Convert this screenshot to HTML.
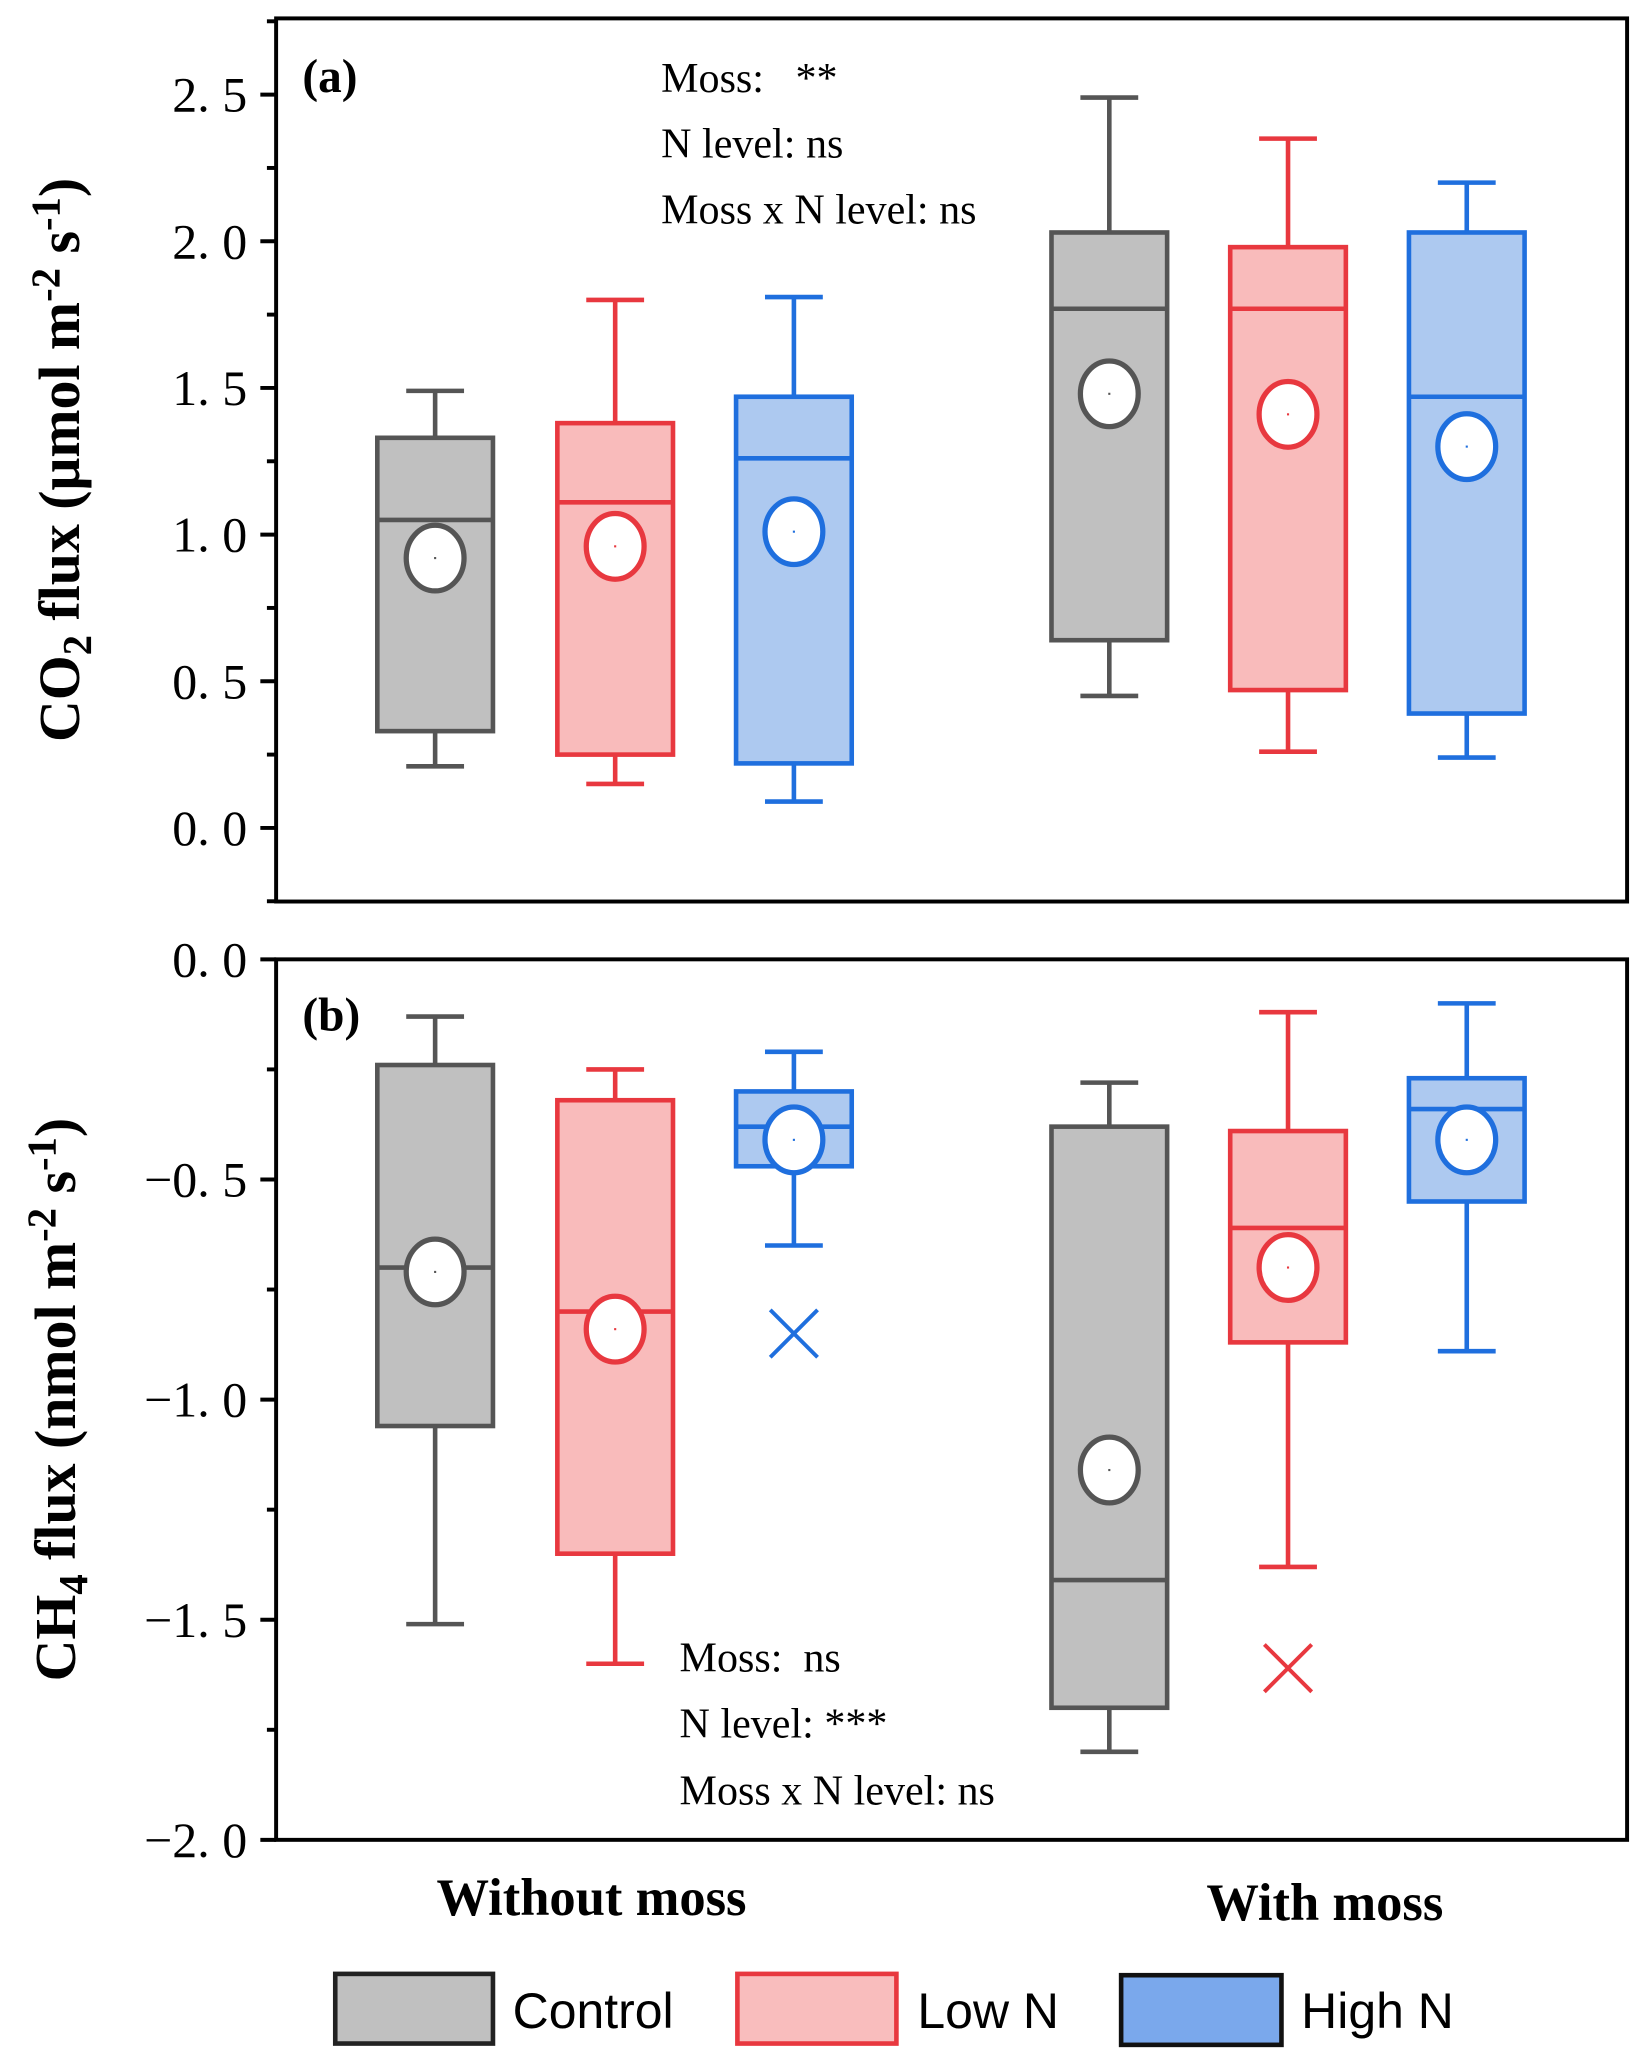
<!DOCTYPE html>
<html><head><meta charset="utf-8">
<style>
html,body{margin:0;padding:0;background:#fff;}
svg{display:block;}
.tick{font-family:"Liberation Serif",serif;font-size:38px;fill:#000;}
.ann{font-family:"Liberation Serif",serif;font-size:32px;fill:#000;}
.ttl{font-family:"Liberation Serif",serif;font-size:40px;font-weight:bold;fill:#000;}
.yt{font-family:"Liberation Serif",serif;font-size:44px;font-weight:bold;fill:#000;}
.leg{font-family:"Liberation Sans",sans-serif;font-size:38px;fill:#000;}
</style></head>
<body>
<svg id="chart" width="1643" height="2058" viewBox="0 0 1250 1566" xmlns="http://www.w3.org/2000/svg">
<g id="panelA"></g>
<g id="panelB"></g>
<text class="ttl" x="450" y="1457" text-anchor="middle">Without moss</text>
<text class="ttl" x="1008" y="1461" text-anchor="middle">With moss</text>
<g>
<rect x="255" y="1502" width="120" height="53" fill="#c0c0c0" stroke="#222" stroke-width="3.5"/>
<text class="leg" x="390" y="1543">Control</text>
<rect x="561" y="1502" width="121" height="53" fill="#f9bdbd" stroke="#e8383f" stroke-width="3.5"/>
<text class="leg" x="698" y="1543">Low N</text>
<rect x="853" y="1503" width="122" height="53" fill="#7aa8ec" stroke="#111" stroke-width="3.5"/>
<text class="leg" x="990" y="1543">High N</text>
</g>
</svg>
<script>
// Shared
const groups = ["Control","Low N","High N","Control","Low N","High N"];
const xCenters = [331,468,604,844,980,1116];
const strokes = ["#555555","#e8383f","#1f6fde","#555555","#e8383f","#1f6fde"];
const fills = ["#c0c0c0","#f9bbbb","#adc9f0","#c0c0c0","#f9bbbb","#adc9f0"];

// Panel A data (CO2)
const aWhiskLo = [0.21,0.15,0.09,0.45,0.26,0.24];
const aQ1 = [0.33,0.25,0.22,0.64,0.47,0.39];
const aMedian = [1.05,1.11,1.26,1.77,1.77,1.47];
const aQ3 = [1.33,1.38,1.47,2.03,1.98,2.03];
const aWhiskHi = [1.49,1.80,1.81,2.49,2.35,2.20];
const aMean = [0.92,0.96,1.01,1.48,1.41,1.30];
const aTicks = [0,0.5,1.0,1.5,2.0,2.5];
const aTickLabels = ["0. 0","0. 5","1. 0","1. 5","2. 0","2. 5"];

// Panel B data (CH4)
const bWhiskLo = [-1.51,-1.60,-0.65,-1.80,-1.38,-0.89];
const bQ1 = [-1.06,-1.35,-0.47,-1.70,-0.87,-0.55];
const bMedian = [-0.70,-0.80,-0.38,-1.41,-0.61,-0.34];
const bQ3 = [-0.24,-0.32,-0.30,-0.38,-0.39,-0.27];
const bWhiskHi = [-0.13,-0.25,-0.21,-0.28,-0.12,-0.10];
const bMean = [-0.71,-0.84,-0.41,-1.16,-0.70,-0.41];
const bOutlierIdx = [2,4];
const bOutlierVal = [-0.85,-1.61];
const bTicks = [0,-0.5,-1.0,-1.5,-2.0];
const bTickLabels = ["0. 0","−0. 5","−1. 0","−1. 5","−2. 0"];

const NS="http://www.w3.org/2000/svg";
function mk(parent,tag,attrs){const e=document.createElementNS(NS,tag);for(const k in attrs)e.setAttribute(k,attrs[k]);parent.appendChild(e);return e;}

function drawPanel(g,cfg){
  const y=v=>cfg.y0+(v-cfg.v0)*(cfg.y1-cfg.y0)/(cfg.v1-cfg.v0);
  const L=210,R=1238,T=cfg.top,B=cfg.bottom;
  const fr=mk(g,'rect',{x:L,y:T,width:R-L,height:B-T,fill:'none',stroke:'#000','stroke-width':3});
  
  
  for(let v=cfg.minorStart;v<=cfg.minorEnd+1e-9;v+=0.25){
    const major=Math.abs(v*2-Math.round(v*2))<1e-6;
    const t=mk(g,'line',{x1:L-(major?12:7),x2:L,y1:y(v),y2:y(v),stroke:'#000','stroke-width':3});
    
    
  }
  cfg.ticks.forEach((v,i)=>{
    const t=mk(g,'text',{x:L-22,y:y(v)+13,'text-anchor':'end',class:'tick'});
    t.textContent=cfg.tickLabels[i];
    
    
  });
  const d=cfg.data;
  for(let i=0;i<xCenters.length;i++){
    const cx=xCenters[i],s=strokes[i],hw=44,cw=22;
    const bg=mk(g,'g',{});
    
    
    mk(bg,'line',{x1:cx,x2:cx,y1:y(d.hi[i]),y2:y(d.q3[i]),stroke:s,'stroke-width':3.5});
    mk(bg,'line',{x1:cx,x2:cx,y1:y(d.q1[i]),y2:y(d.lo[i]),stroke:s,'stroke-width':3.5});
    mk(bg,'line',{x1:cx-cw,x2:cx+cw,y1:y(d.hi[i]),y2:y(d.hi[i]),stroke:s,'stroke-width':3.5});
    mk(bg,'line',{x1:cx-cw,x2:cx+cw,y1:y(d.lo[i]),y2:y(d.lo[i]),stroke:s,'stroke-width':3.5});
    mk(bg,'rect',{x:cx-hw,y:y(d.q3[i]),width:2*hw,height:y(d.q1[i])-y(d.q3[i]),fill:fills[i],stroke:s,'stroke-width':3.5});
    mk(bg,'line',{x1:cx-hw,x2:cx+hw,y1:y(d.med[i]),y2:y(d.med[i]),stroke:s,'stroke-width':3.5});
    mk(bg,'ellipse',{cx:cx,cy:y(d.mean[i]),rx:22,ry:25,fill:'#fff',stroke:s,'stroke-width':4});
    mk(bg,'rect',{x:cx-0.8,y:y(d.mean[i])-0.8,width:1.6,height:1.6,fill:s});
  }
  if(d.outIdx){
    d.outIdx.forEach((idx,k)=>{
      const cx=xCenters[idx],cy=y(d.outVal[k]),r=18;
      const o=mk(g,'path',{d:`M${cx-r},${cy-r}L${cx+r},${cy+r}M${cx-r},${cy+r}L${cx+r},${cy-r}`,stroke:strokes[idx],'stroke-width':3,fill:'none'});
      
      
    });
  }
}

const gA=document.getElementById('panelA');
drawPanel(gA,{name:'panel-a',top:14,bottom:686,y0:630,y1:72,v0:0,v1:2.5,minorStart:-0.25,minorEnd:2.75,ticks:aTicks,tickLabels:aTickLabels,
  data:{lo:aWhiskLo,q1:aQ1,med:aMedian,q3:aQ3,hi:aWhiskHi,mean:aMean}});
const gB=document.getElementById('panelB');
drawPanel(gB,{name:'panel-b',top:730,bottom:1400,y0:730,y1:1400,v0:0,v1:-2,minorStart:-2,minorEnd:0,ticks:bTicks,tickLabels:bTickLabels,
  data:{lo:bWhiskLo,q1:bQ1,med:bMedian,q3:bQ3,hi:bWhiskHi,mean:bMean,outIdx:bOutlierIdx,outVal:bOutlierVal}});

function txt(parent,x,y,cls,content,name,extra){
  const t=mk(parent,'text',Object.assign({x:x,y:y,class:cls},extra||{}));
  t.innerHTML=content;
  
  
  return t;
}
txt(gA,230,70,'ttl','(a)','panel-a-label',{style:'font-size:36px'});
txt(gA,503,70,'ann','Moss:&#160;&#160;&#160;**','annotation-a-moss');
txt(gA,503,120,'ann','N level: ns','annotation-a-n-level');
txt(gA,503,170,'ann','Moss x N level: ns','annotation-a-interaction');
txt(gB,230,784,'ttl','(b)','panel-b-label',{style:'font-size:36px'});
txt(gB,517,1272,'ann','Moss:&#160;&#160;ns','annotation-b-moss');
txt(gB,517,1322,'ann','N level: ***','annotation-b-n-level');
txt(gB,517,1373,'ann','Moss x N level: ns','annotation-b-interaction');
txt(gA,0,0,'yt','CO<tspan dy="9" font-size="31">2</tspan><tspan dy="-9"> flux (μmol m</tspan><tspan dy="-15" font-size="31">-2</tspan><tspan dy="15"> s</tspan><tspan dy="-15" font-size="31">-1</tspan><tspan dy="15">)</tspan>','y-axis-title-co2',{'text-anchor':'middle',transform:'translate(60,350) rotate(-90)'});
txt(gB,0,0,'yt','CH<tspan dy="9" font-size="31">4</tspan><tspan dy="-9"> flux (nmol m</tspan><tspan dy="-15" font-size="31">-2</tspan><tspan dy="15"> s</tspan><tspan dy="-15" font-size="31">-1</tspan><tspan dy="15">)</tspan>','y-axis-title-ch4',{'text-anchor':'middle',transform:'translate(57,1065) rotate(-90)'});
</script>
</body></html>
